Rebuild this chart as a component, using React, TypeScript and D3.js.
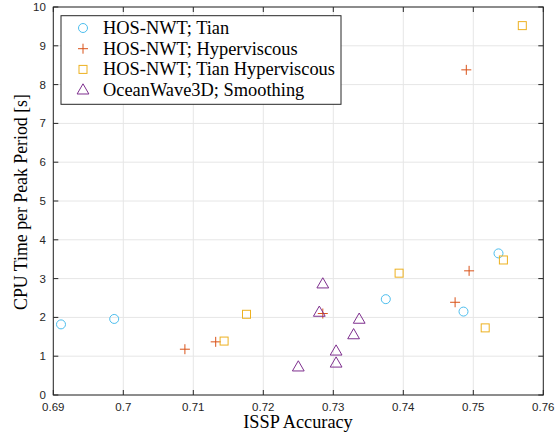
import React from "react";
import * as d3 from "d3";

const tianX = [0.6911, 0.6987, 0.7375, 0.7486, 0.7536];
const tianY = [1.82, 1.96, 2.47, 2.15, 3.65];
const hyperX = [0.7088, 0.7132, 0.7285, 0.7474, 0.7494, 0.749];
const hyperY = [1.18, 1.37, 2.1, 2.39, 3.2, 8.38];
const tianHyperX = [0.7144, 0.7176, 0.7394, 0.7517, 0.7543, 0.757];
const tianHyperY = [1.39, 2.08, 3.14, 1.73, 3.48, 9.52];
const owX = [0.7285, 0.728, 0.7337, 0.7329, 0.7304, 0.7304, 0.725];
const owY = [2.86, 2.13, 1.95, 1.55, 1.13, 0.82, 0.72];

const xTicks = [0.69, 0.7, 0.71, 0.72, 0.73, 0.74, 0.75, 0.76];
const yTicks = [0, 1, 2, 3, 4, 5, 6, 7, 8, 9, 10];
const seriesNames = [
  "HOS-NWT; Tian",
  "HOS-NWT; Hyperviscous",
  "HOS-NWT; Tian Hyperviscous",
  "OceanWave3D; Smoothing",
];
const colors = ["#4DBEEE", "#D95319", "#EDB120", "#7E2F8E"];

const W = 555, H = 439;
const L = 53.3, R = 543.3, T = 7, B = 395;

function Marker({ kind, x, y, color }: { kind: number; x: number; y: number; color: string }) {
  if (kind === 0) return <circle cx={x} cy={y} r={4.5} fill="none" stroke={color} strokeWidth={1} />;
  if (kind === 1)
    return (
      <path d={`M${x - 5},${y}H${x + 5}M${x},${y - 5}V${y + 5}`} stroke={color} strokeWidth={1} fill="none" />
    );
  if (kind === 2) return <rect x={x - 4} y={y - 4} width={8} height={8} fill="none" stroke={color} strokeWidth={1} />;
  const s = d3.symbol(d3.symbolTriangle, 60)();
  return <path d={s || ""} transform={`translate(${x},${y + 0.5})`} fill="none" stroke={color} strokeWidth={1} />;
}

export default function App() {
  const x = d3.scaleLinear().domain([0.69, 0.76]).range([L, R]);
  const y = d3.scaleLinear().domain([0, 10]).range([B, T]);
  const series = [
    [tianX, tianY],
    [hyperX, hyperY],
    [tianHyperX, tianHyperY],
    [owX, owY],
  ];
  const axisColor = "#262626";
  const serif = "'Liberation Serif', 'DejaVu Serif', serif";
  const sans = "'Liberation Sans', Arial, sans-serif";
  return (
    <svg width={W} height={H} style={{ position: "absolute", left: 0, top: 0 }}>
      <rect width={W} height={H} fill="#fff" />
      {xTicks.map((t) => (
        <line key={"gx" + t} x1={x(t)} x2={x(t)} y1={T} y2={B} stroke="#e6e6e6" strokeWidth={1} />
      ))}
      {yTicks.map((t) => (
        <line key={"gy" + t} x1={L} x2={R} y1={y(t)} y2={y(t)} stroke="#e6e6e6" strokeWidth={1} />
      ))}
      {series.map(([xs, ys], si) =>
        xs.map((v, i) => <Marker key={si + "-" + i} kind={si} x={x(v)} y={y(ys[i])} color={colors[si]} />)
      )}
      <rect x={L} y={T} width={R - L} height={B - T} fill="none" stroke={axisColor} strokeWidth={1} />
      {xTicks.map((t) => (
        <g key={"tx" + t}>
          <line x1={x(t)} x2={x(t)} y1={B} y2={B - 5} stroke={axisColor} />
          <line x1={x(t)} x2={x(t)} y1={T} y2={T + 5} stroke={axisColor} />
          <text x={x(t)} y={B + 16} textAnchor="middle" fontFamily={sans} fontSize={11.5} fill={axisColor}>
            {String(t)}
          </text>
        </g>
      ))}
      {yTicks.map((t) => (
        <g key={"ty" + t}>
          <line x1={L} x2={L + 5} y1={y(t)} y2={y(t)} stroke={axisColor} />
          <line x1={R} x2={R - 5} y1={y(t)} y2={y(t)} stroke={axisColor} />
          <text x={L - 7.5} y={y(t) + 4} textAnchor="end" fontFamily={sans} fontSize={11.5} fill={axisColor}>
            {String(t)}
          </text>
        </g>
      ))}
      <text x={298} y={428} textAnchor="middle" fontFamily={serif} fontSize={18.3} fill="#000">
        ISSP Accuracy
      </text>
      <text
        transform={`translate(26.5,202) rotate(-90)`}
        textAnchor="middle"
        fontFamily={serif}
        fontSize={17.8}
        fill="#000"
      >
        CPU Time per Peak Period [s]
      </text>
      <rect x={61} y={15.7} width={280} height={88.6} fill="#fff" stroke={axisColor} strokeWidth={1} />
      {seriesNames.map((n, i) => {
        const cy = 28 + i * 20.7;
        return (
          <g key={n}>
            <Marker kind={i} x={83} y={cy} color={colors[i]} />
            <text x={103} y={cy + 5.8} fontFamily={serif} fontSize={18.4} fill="#000">
              {n}
            </text>
          </g>
        );
      })}
    </svg>
  );
}
